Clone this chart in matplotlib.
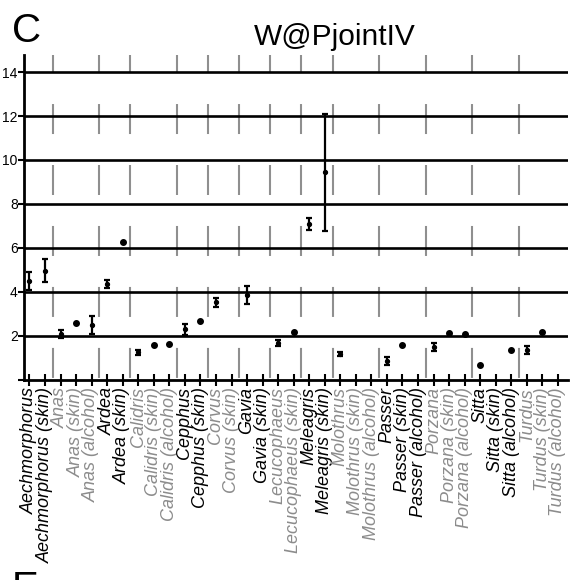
import matplotlib
matplotlib.use('Agg')
import matplotlib.pyplot as plt
import numpy as np

plt.rcParams['font.family'] = ['Liberation Sans', 'DejaVu Sans']
plt.rcParams['lines.scale_dashes'] = False

# categories (genus + preparation)
labels = ['Aechmorphorus', 'Aechmorphorus (skin)',
          'Anas', 'Anas (skin)', 'Anas (alcohol)',
          'Ardea', 'Ardea (skin)',
          'Calidris', 'Calidris (skin)', 'Calidris (alcohol)',
          'Cepphus', 'Cepphus (skin)',
          'Corvus', 'Corvus (skin)',
          'Gavia', 'Gavia (skin)',
          'Lecucophaeus', 'Lecucophaeus (skin)',
          'Meleagris', 'Meleagris (skin)',
          'Molothrus', 'Molothrus (skin)', 'Molothrus (alcohol)',
          'Passer', 'Passer (skin)', 'Passer (alcohol)',
          'Porzana', 'Porzana (skin)', 'Porzana (alcohol)',
          'Sitta', 'Sitta (skin)', 'Sitta (alcohol)',
          'Turdus', 'Turdus (skin)', 'Turdus (alcohol)']

nan = np.nan
means = [4.50, 4.97, 2.09, 2.58, 2.50, 4.35, 6.28, 1.25, 1.60, 1.63,
         2.30, 2.68, 3.52, nan, 3.87, nan, 1.68, 2.20, 7.08, 9.45,
         1.19, nan, nan, 0.88, 1.57, nan, 1.50, 2.15, 2.08, 0.67,
         nan, 1.34, 1.35, 2.18, nan]
errs = [0.42, 0.52, 0.18, 0, 0.40, 0.18, 0, 0.10, 0, 0,
        0.25, 0, 0.22, nan, 0.40, nan, 0.15, 0, 0.28, 2.66,
        0.10, nan, nan, 0.18, 0, nan, 0.17, 0, 0, 0,
        nan, 0, 0.17, 0, nan]

yticks = [0, 2, 4, 6, 8, 10, 12, 14]
ytick_labels = ['', '2', '4', '6', '8', '10', '12', '14']

groups = [l.split(' ')[0] for l in labels]
x = np.arange(len(labels))

# alternate black / gray per genus
colors = []
g_idx = -1
for i, g in enumerate(groups):
    if i == 0 or g != groups[i - 1]:
        g_idx += 1
    colors.append('black' if g_idx % 2 == 0 else '#8c8c8c')

fig = plt.figure(figsize=(5.78, 5.80), dpi=100)
ax = fig.add_axes([0.041, 0.345, 0.942, 0.56])
ytop = 14.77
ax.set_xlim(-0.37, 34.66)
ax.set_ylim(0, ytop)

# gray dashed separators between genera
for i in range(1, len(labels)):
    if groups[i] != groups[i - 1]:
        ax.plot([i - 0.5, i - 0.5], [ytop, 0], color='#8f8f8f', lw=1.5,
                linestyle=(8.6, (21.6, 22.3)), zorder=1, clip_on=False)

for v in yticks[1:]:
    ax.axhline(v, color='black', lw=1.9, zorder=2)

m = np.array(means)
e = np.array(errs)
has_err = e > 0
single = e == 0
ax.errorbar(x[has_err], m[has_err], yerr=e[has_err], fmt='o', color='black',
            ms=2.8, elinewidth=1.6, capsize=2.5, capthick=1.6, zorder=4)
ax.plot(x[single], m[single], 'o', color='black', ms=4, zorder=4)

ax.set_yticks(yticks)
ax.set_yticklabels(ytick_labels)
ax.set_xticks(x)
ax.set_xticklabels(labels, rotation=90, fontstyle='italic', fontsize=13)
for t, c in zip(ax.get_xticklabels(), colors):
    t.set_color(c)

ax.tick_params(axis='y', direction='out', length=4, width=1.5, labelsize=10, pad=0.3)
ax.tick_params(axis='x', direction='inout', length=8.5, width=1.5, pad=1)
for s in ['top', 'right']:
    ax.spines[s].set_visible(False)
for s in ['left', 'bottom']:
    ax.spines[s].set_linewidth(2)

fig.text(335 / 578, 0.922, 'W@PjointIV', ha='center', va='baseline', fontsize=21.5)
fig.text(0.02, 0.928, 'C', ha='left', va='baseline', fontsize=29)
fig.text(0.02, 0.018, 'E', ha='left', va='top', fontsize=29)

fig.savefig('out.png', dpi=100)
